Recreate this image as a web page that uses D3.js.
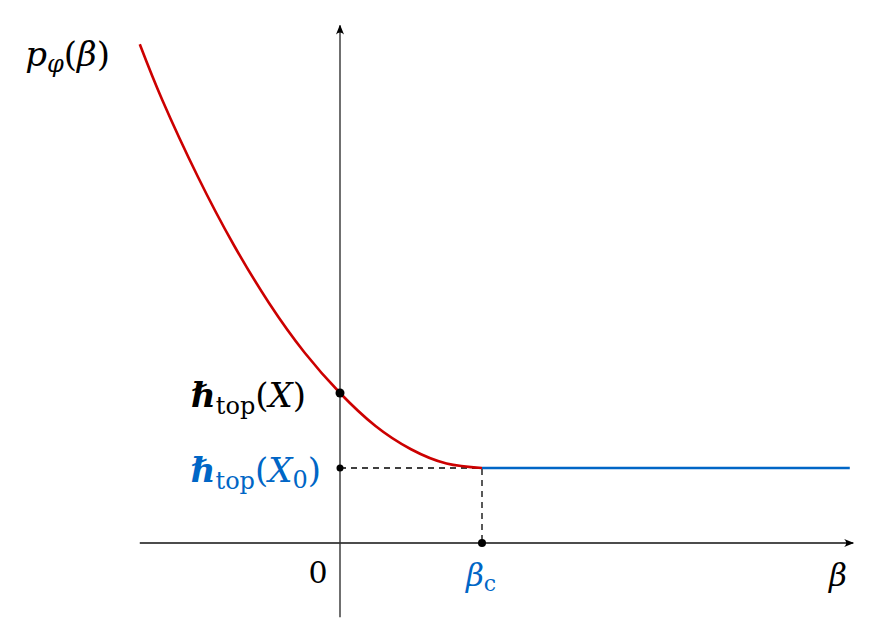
<!DOCTYPE html>
<html><head><meta charset="utf-8">
<script src="https://cdn.jsdelivr.net/npm/d3@7"></script>
<style>body{margin:0;background:#fff}svg{display:block}text{font-family:"DejaVu Serif",serif}</style>
</head><body><svg id="c" width="879" height="643"></svg>
<script>
// data (beta, p); beta_c = 1, h_top(X0) = 1
const betaRed = [-1.41, -1.25, -1.0, -0.75, -0.5, -0.25, 0, 0.25, 0.5, 0.75, 1];
const pRed    = [6.65, 5.90, 4.88, 3.98, 3.20, 2.54, 2.0, 1.56, 1.25, 1.06, 1.0];
const betaBlue = [1, 3.59];
const pBlue    = [1.0, 1.0];
const betaC = 1, hX = 2.0, hX0 = 1.0;
const xDomain = [-1.41, 3.6];
const yDomain = [-0.99, 6.9];

const svg = d3.select("#c");
const x = d3.scaleLinear().domain([0, 1]).range([340, 482]);
const y = d3.scaleLinear().domain([0, 1]).range([543, 468]);
const red = "#cc0000", blue = "#0066c6";

const defs = svg.append("defs");
defs.append("marker").attr("id","arr").attr("viewBox","0 0 10 10").attr("refX",9).attr("refY",5)
  .attr("markerWidth",10).attr("markerHeight",10).attr("markerUnits","userSpaceOnUse").attr("orient","auto")
  .append("path").attr("d","M0,1 Q4,5 0,9 L10,5 Z").attr("fill","#000");

// axes
svg.append("line").attr("x1", x(xDomain[0])).attr("x2", x(xDomain[1])+2).attr("y1", y(0)).attr("y2", y(0))
  .attr("stroke","#111").attr("stroke-width",1.3).attr("marker-end","url(#arr)");
svg.append("line").attr("x1", x(0)).attr("x2", x(0)).attr("y1", y(yDomain[0])).attr("y2", y(yDomain[1]))
  .attr("stroke","#333").attr("stroke-width",1.4).attr("marker-end","url(#arr)");

// dashed guides
svg.append("path").attr("d", `M${x(0)},${y(hX0)}H${x(betaC)}V${y(0)}`)
  .attr("fill","none").attr("stroke","#000").attr("stroke-width",1.3).attr("stroke-dasharray","6,5");

// curves
const line = d3.line().x(d=>x(d[0])).y(d=>y(d[1])).curve(d3.curveNatural);
svg.append("path").datum(betaRed.map((b,i)=>[b,pRed[i]])).attr("d", line)
  .attr("fill","none").attr("stroke",red).attr("stroke-width",2.6);
svg.append("path").datum(betaBlue.map((b,i)=>[b,pBlue[i]])).attr("d", d3.line().x(d=>x(d[0])).y(d=>y(d[1])))
  .attr("fill","none").attr("stroke",blue).attr("stroke-width",2.6);

// dots
[[0,hX,4.5],[0,hX0,3.5],[betaC,0,4]].forEach(([a,b,r])=>
  svg.append("circle").attr("cx",x(a)).attr("cy",y(b)).attr("r",r).attr("fill","#000"));

// labels
function lab(xp, yp, anchor, color, parts, fs){
  fs = fs || 34;
  const t = svg.append("text").attr("x",xp).attr("y",yp).attr("text-anchor",anchor).attr("fill",color).attr("font-size",fs);
  parts.forEach(p=>{
    const s = t.append("tspan").text(p.t);
    if(p.it) s.attr("font-style","italic");
    if(p.b) s.attr("font-weight","bold");
    if(p.sub) s.attr("font-size",Math.round(fs*0.72)).attr("dy",p.dy||7);
    if(p.up) s.attr("dy",p.up);
  });
  return t;
}
lab(110, 66, "end", "#000", [{t:"p",it:1},{t:"φ",it:1,sub:1,dy:6},{t:"(",up:-6},{t:"β",it:1},{t:")"}]);
lab(306, 407, "end", "#000", [{t:"ℏ",it:1,b:1},{t:"top",sub:1,dy:7},{t:"(",up:-7},{t:"X",it:1},{t:")"}]);
lab(321, 482, "end", blue, [{t:"ℏ",it:1,b:1},{t:"top",sub:1,dy:7},{t:"(",up:-7},{t:"X",it:1},{t:"0",sub:1,dy:6},{t:")",up:-6}]);
lab(318, 583, "middle", "#000", [{t:"0"}], 30);
lab(481, 586, "middle", blue, [{t:"β",it:1},{t:"c",sub:1,dy:5}], 31);
lab(838, 586, "middle", "#000", [{t:"β",it:1}], 31);
</script></body></html>
